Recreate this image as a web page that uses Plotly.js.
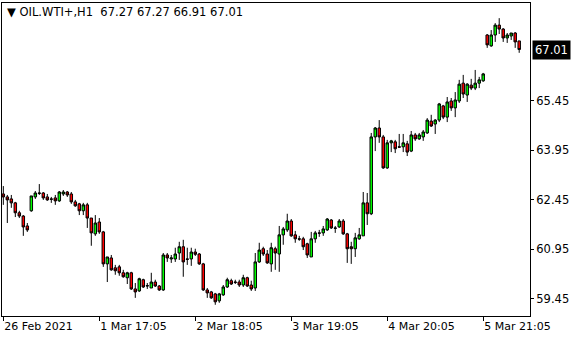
<!DOCTYPE html>
<html>
<head>
<meta charset="utf-8">
<script src="https://cdn.plot.ly/plotly-3.0.1.min.js"></script>
<style>html,body{margin:0;padding:0;background:#fff;}#chart{width:580px;height:340px;}</style>
</head>
<body>
<div id="chart"></div>
<script>
// Hourly bars OIL.WTI+, H1 (bar index 0..129)
const openPrices = [
62.63,62.54,62.48,62.36,62.06,61.96,61.66,62.12,62.54,62.66,
62.66,62.54,62.48,62.51,62.42,62.63,62.69,62.63,62.39,62.33,
62.12,62.30,61.90,61.42,61.78,61.48,60.51,60.69,60.39,60.42,
60.24,60.09,60.24,59.75,59.69,60.03,59.84,59.78,59.96,59.84,
59.72,60.78,60.66,60.66,60.84,61.03,60.66,60.66,60.87,60.81,
60.51,59.72,59.66,59.60,59.39,59.57,59.81,60.00,59.96,59.96,
59.87,60.09,59.87,59.78,60.57,60.97,60.81,60.51,60.97,60.81,
61.39,61.54,61.81,61.39,61.27,61.27,61.12,60.72,61.27,61.45,
61.45,61.54,61.84,61.60,61.63,61.81,61.42,61.03,60.97,61.27,
61.36,62.36,62.03,64.36,64.63,64.36,63.42,64.18,64.21,64.06,
64.06,64.15,63.93,64.42,64.30,64.36,64.48,64.84,64.75,64.87,
65.30,64.96,65.45,65.24,65.45,65.99,65.63,65.93,65.84,65.99,
66.06,67.45,67.12,67.45,67.75,67.63,67.36,67.42,67.51,67.27
];
const highPrices = [
62.87,62.60,62.60,62.39,62.12,61.99,61.75,62.57,62.72,62.93,
62.69,62.63,62.54,62.60,62.72,62.75,62.72,62.69,62.45,62.36,
62.36,62.36,61.90,61.99,61.90,61.51,60.72,60.78,60.48,60.48,
60.33,60.27,60.27,59.93,60.09,60.06,59.93,60.24,60.03,59.87,
60.84,60.84,60.78,61.00,61.18,61.24,61.00,61.00,60.97,60.84,
60.54,59.78,59.69,59.63,59.63,59.87,60.09,60.06,60.03,60.03,
60.18,60.12,60.00,60.84,61.15,61.03,60.93,61.15,61.03,61.66,
61.63,62.03,61.87,61.51,61.36,61.33,61.15,61.48,61.51,61.54,
61.66,61.90,61.87,61.66,61.87,61.87,61.45,61.18,61.45,61.60,
62.69,62.66,64.48,64.66,64.87,64.42,64.27,64.27,64.27,64.45,
64.45,64.24,64.54,64.48,64.48,64.57,64.93,65.03,64.90,65.39,
65.33,65.57,65.54,65.72,66.09,66.24,65.99,66.12,66.39,66.18,
66.30,67.48,67.60,67.81,67.96,67.66,67.51,67.51,67.54,67.27
];
const lowPrices = [
62.30,61.75,62.21,61.93,61.90,61.36,61.48,62.09,62.48,62.60,
62.45,62.42,62.36,62.30,62.39,62.57,62.54,62.33,62.24,61.99,
61.99,61.60,61.06,61.36,61.42,60.42,59.96,60.30,60.18,60.15,
60.09,59.90,59.72,59.48,59.66,59.78,59.75,59.78,59.81,59.69,
59.69,60.57,60.54,60.57,60.63,60.12,60.48,60.45,60.75,60.48,
59.69,59.48,59.45,59.27,59.33,59.54,59.78,59.87,59.90,59.81,
59.81,59.81,59.69,59.69,60.54,60.75,60.51,60.27,60.33,60.27,
61.09,61.48,61.33,61.15,61.21,60.93,60.69,60.72,61.15,61.33,
61.36,61.51,61.57,61.45,61.60,61.39,60.54,60.51,60.72,61.24,
61.36,61.69,61.99,63.93,64.18,63.39,63.39,63.90,63.87,64.03,
63.90,63.78,63.90,64.24,64.27,64.24,64.45,64.66,64.45,64.81,
64.90,64.81,65.15,64.96,65.39,65.54,65.42,65.78,65.78,65.84,
66.03,67.06,67.09,67.24,67.48,67.24,67.21,67.30,67.06,66.91
];
const closePrices = [
62.54,62.45,62.36,62.06,61.96,61.63,61.54,62.57,62.66,62.65,
62.51,62.45,62.47,62.42,62.69,62.69,62.60,62.39,62.27,62.12,
62.30,61.90,61.45,61.75,61.48,60.51,60.72,60.33,60.30,60.24,
60.12,60.24,59.75,59.66,60.06,59.81,59.85,59.96,59.84,59.72,
60.78,60.69,60.69,60.81,61.03,60.57,60.65,60.87,60.80,60.51,
59.72,59.63,59.48,59.36,59.60,59.81,60.03,59.90,59.95,59.87,
60.09,59.84,59.75,60.57,60.93,60.81,60.54,61.00,60.84,61.39,
61.57,61.81,61.36,61.27,61.26,61.03,60.78,61.27,61.45,61.44,
61.57,61.87,61.60,61.59,61.81,61.42,60.97,60.97,61.30,61.39,
62.36,62.03,64.36,64.63,64.36,63.42,64.18,64.24,64.00,64.05,
64.18,63.90,64.42,64.30,64.42,64.51,64.87,64.69,64.87,65.36,
64.96,65.42,65.24,65.48,65.96,65.66,65.96,65.84,65.99,66.09,
66.27,67.15,67.45,67.75,67.63,67.36,67.45,67.51,67.24,67.01
];
const xTickIndex = [0, 24, 48, 72, 96, 120];
const xTickLabels = ['26 Feb 2021', '1 Mar 17:05', '2 Mar 18:05', '3 Mar 19:05', '4 Mar 20:05', '5 Mar 21:05'];
const yTickValues = [59.45, 60.95, 62.45, 63.95, 65.45];
const yTickLabels = ['59.45', '60.95', '62.45', '63.95', '65.45'];
const symbolTitle = 'OIL.WTI+,H1';
const lastBar = {open: 67.27, high: 67.27, low: 66.91, close: 67.01};

const barIndex = openPrices.map((_, i) => i);
const FONT = 'DejaVu Sans, Verdana, sans-serif';

const trace = {
  type: 'candlestick',
  x: barIndex,
  open: openPrices,
  high: highPrices,
  low: lowPrices,
  close: closePrices,
  increasing: {line: {color: '#000000', width: 1}, fillcolor: '#00ff00'},
  decreasing: {line: {color: '#000000', width: 1}, fillcolor: '#ff0000'},
  whiskerwidth: 0,
  hoverinfo: 'none',
  showlegend: false
};

const layout = {
  width: 580,
  height: 340,
  margin: {l: 2, r: 50, t: 3, b: 24, pad: 0},
  paper_bgcolor: '#ffffff',
  plot_bgcolor: '#ffffff',
  showlegend: false,
  boxgap: 0.12,
  xaxis: {
    range: [-0.33, 131.7],
    tickmode: 'array',
    tickvals: xTickIndex,
    ticktext: xTickLabels,
    ticks: 'outside',
    ticklen: 4,
    tickcolor: '#000',
    tickwidth: 1,
    showline: true,
    linecolor: '#000',
    linewidth: 1,
    mirror: true,
    showgrid: false,
    zeroline: false,
    ticklabelposition: 'outside right',
    tickfont: {family: FONT, size: 11, color: '#000'},
    rangeslider: {visible: false},
    fixedrange: true
  },
  yaxis: {
    side: 'right',
    range: [58.93, 68.42],
    tickmode: 'array',
    tickvals: yTickValues,
    ticktext: yTickLabels,
    ticks: 'outside',
    ticklen: 3,
    tickcolor: '#000',
    showline: true,
    linecolor: '#000',
    linewidth: 1,
    mirror: true,
    showgrid: false,
    zeroline: false,
    tickfont: {family: FONT, size: 11.5, color: '#000'},
    fixedrange: true
  },
  annotations: [
    {
      xref: 'paper', yref: 'paper', x: 0, y: 1,
      xanchor: 'left', yanchor: 'middle', xshift: 3, yshift: -9,
      showarrow: false, align: 'left',
      text: '\u25BC\u00a0' + symbolTitle + '\u00a0\u00a0' + [lastBar.open, lastBar.high, lastBar.low, lastBar.close].map(v => v.toFixed(2)).join(' '),
      font: {family: FONT, size: 11.5, color: '#000'}
    },
    {
      xref: 'paper', yref: 'y', x: 1, y: lastBar.close,
      xanchor: 'left', yanchor: 'middle', xshift: 2,
      showarrow: false,
      text: lastBar.close.toFixed(2),
      bgcolor: '#000000', borderpad: 2,
      font: {family: FONT, size: 11.5, color: '#ffffff'}
    }
  ]
};

Plotly.newPlot('chart', [trace], layout, {displayModeBar: false, staticPlot: true});
</script>
</body>
</html>
